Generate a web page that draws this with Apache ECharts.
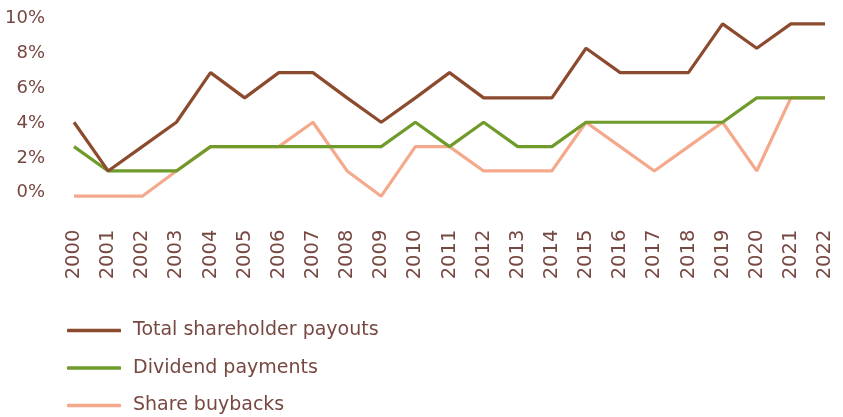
<!DOCTYPE html>
<html>
<head>
<meta charset="utf-8">
<script src="https://cdn.jsdelivr.net/npm/echarts@6/dist/echarts.min.js"></script>
<style>
  html, body { margin: 0; padding: 0; background: #fff; }
  #chart { width: 843px; height: 417px; }
</style>
</head>
<body>
<div id="chart"></div>
<script>
// years on the x axis
var years = ['2000', '2001', '2002', '2003', '2004', '2005', '2006', '2007', '2008', '2009', '2010',
             '2011', '2012', '2013', '2014', '2015', '2016', '2017', '2018', '2019', '2020', '2021', '2022']

// values in %
var totalPayouts = [4.05, 1.25, 2.65, 4.05, 6.9, 5.45, 6.9, 6.9, 5.45, 4.05, 5.45,
                    6.9, 5.45, 5.45, 5.45, 8.3, 6.9, 6.9, 6.9, 9.7, 8.3, 9.7, 9.7]
var dividends = [2.65, 1.25, 1.25, 1.25, 2.65, 2.65, 2.65, 2.65, 2.65, 2.65, 4.05,
                 2.65, 4.05, 2.65, 2.65, 4.05, 4.05, 4.05, 4.05, 4.05, 5.45, 5.45, 5.45]
var buybacks = [-0.2, -0.2, -0.2, 1.25, 2.65, 2.65, 2.65, 4.05, 1.25, -0.2, 2.65,
                2.65, 1.25, 1.25, 1.25, 4.05, 2.65, 1.25, 2.65, 4.05, 1.25, 5.45, 5.45]

var textColor = '#774841'
var fontFamily = 'DejaVu Sans'

var myChart = echarts.init(document.getElementById('chart'))
var option = {
    animation: false,
    grid: {
        left: 74,
        right: 18,
        top: 18.7,
        bottom: 224.3
    },
    legend: {
        orient: 'vertical',
        left: 67,
        top: 320.5,
        padding: 0,
        itemWidth: 54,
        itemHeight: 3.5,
        itemGap: 17.5,
        icon: 'roundRect',
        textStyle: {
            color: textColor,
            fontFamily: fontFamily,
            fontSize: 19,
            lineHeight: 20,
            padding: [0, 0, 0, 7]
        },
        data: ['Total shareholder payouts', 'Dividend payments', 'Share buybacks']
    },
    xAxis: {
        type: 'category',
        data: years,
        boundaryGap: false,
        axisLine: { show: false },
        axisTick: { show: false },
        axisLabel: {
            rotate: 90,
            margin: 37,
            color: textColor,
            fontFamily: fontFamily,
            fontSize: 19.5
        }
    },
    yAxis: {
        type: 'value',
        min: 0,
        max: 10,
        interval: 2,
        splitLine: { show: false },
        axisLine: { show: false },
        axisTick: { show: false },
        axisLabel: {
            margin: 29,
            color: textColor,
            fontFamily: fontFamily,
            fontSize: 18,
            formatter: '{value}%'
        }
    },
    series: [
        {
            name: 'Total shareholder payouts',
            type: 'line',
            data: totalPayouts,
            symbol: 'none',
            clip: false,
            z: 4,
            itemStyle: { color: '#8C4B2E' },
            lineStyle: { color: '#8C4B2E', width: 3.2 }
        },
        {
            name: 'Dividend payments',
            type: 'line',
            data: dividends,
            symbol: 'none',
            clip: false,
            z: 3,
            itemStyle: { color: '#6F9B2B' },
            lineStyle: { color: '#6F9B2B', width: 3.2 }
        },
        {
            name: 'Share buybacks',
            type: 'line',
            data: buybacks,
            symbol: 'none',
            clip: false,
            z: 2,
            itemStyle: { color: '#F5A98C' },
            lineStyle: { color: '#F5A98C', width: 3.2 }
        }
    ]
}
myChart.setOption(option)
</script>
</body>
</html>
